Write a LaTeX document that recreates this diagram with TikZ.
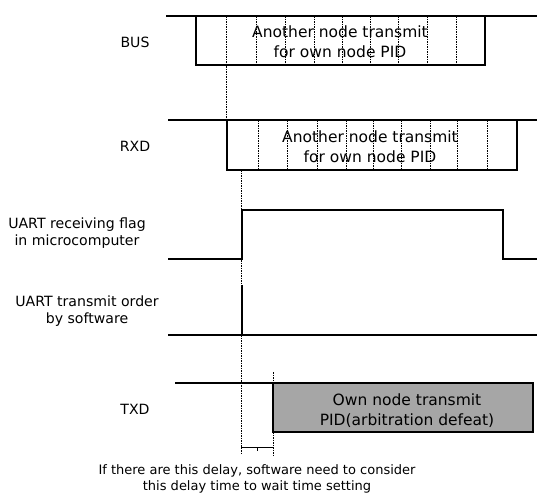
\documentclass[tikz,border=0pt]{standalone}
\usepackage{fontspec}
\setmainfont{DejaVu Sans}
\begin{document}
\begin{tikzpicture}[x=1pt,y=-1pt,
  sig/.style={line width=1.4pt, line join=miter},
  frame/.style={line width=1.4pt},
  guide/.style={line width=0.5pt, dash pattern=on 1.5pt off 1pt},
  lbl/.style={font=\fontsize{14.1}{17}\selectfont, align=center, inner sep=0pt},
  boxtxt/.style={font=\fontsize{15.5}{20}\selectfont, align=center, inner sep=0pt},
  note/.style={font=\fontsize{13}{16}\selectfont, align=center, inner sep=0pt}]
\useasboundingbox (0,0) rectangle (537,493);

% ---- BUS ----
\node[lbl] (bus) at (135,42) {BUS};
\draw[sig] (166,16) -- (537,16);
\draw[frame] (196,16) rectangle (485,65);
\foreach \x in {256,285,314,342,370,398,427,456}
  \draw[guide] (\x,16) -- (\x,65);
\node[boxtxt] (bustxt) at (340,42) {Another node transmit\\for own node PID};

% ---- RXD ----
\node[lbl] (rxd) at (135,146) {RXD};
\draw[sig] (168,120) -- (537,120);
\draw[frame] (227,120) rectangle (517,170);
\foreach \x in {258,287,317,346,373,401,430,457,487}
  \draw[guide] (\x,120) -- (\x,170);
\node[boxtxt] (rxdtxt) at (370,147) {Another node transmit\\for own node PID};

% guide from the BUS start to the RXD start
\draw[guide] (226,16) -- (226,120);

% ---- UART receiving flag ----
\node[lbl] (flag) at (77,233.5) {UART receiving flag\\in microcomputer};
\draw[sig] (168,259) -- (242,259) -- (242,210) -- (503,210) -- (503,259) -- (537,259);

% ---- UART transmit order ----
\node[lbl] (order) at (87,311.5) {UART transmit order\\by software};
\draw[sig] (168,335) -- (537,335);
\draw[line width=1.2pt] (242,285) -- (242,335);

% guide from the RXD end of the first bit down to the delay bracket
\draw[guide] (241,170) -- (241,455);

% ---- TXD ----
\node[lbl] (txd) at (135,409) {TXD};
\draw[sig] (175,383) -- (273,383);
\draw[frame, fill=black!35] (273,383) rectangle (533,432);
\node[boxtxt] (txdtxt) at (407,411) {Own node transmit\\PID(arbitration defeat)};
\draw[guide] (273,372) -- (273,455);

% delay bracket
\coordinate (dl) at (241,447);
\coordinate (dr) at (273,447);
\draw[line width=0.8pt] (dl) -- (dr);
\draw[line width=0.8pt] (257,447) -- (257,451);

% ---- note ----
\node[note] (delaynote) at (257,478.5) {If there are this delay, software need to consider\\this delay time to wait time setting};
\end{tikzpicture}
\end{document}
